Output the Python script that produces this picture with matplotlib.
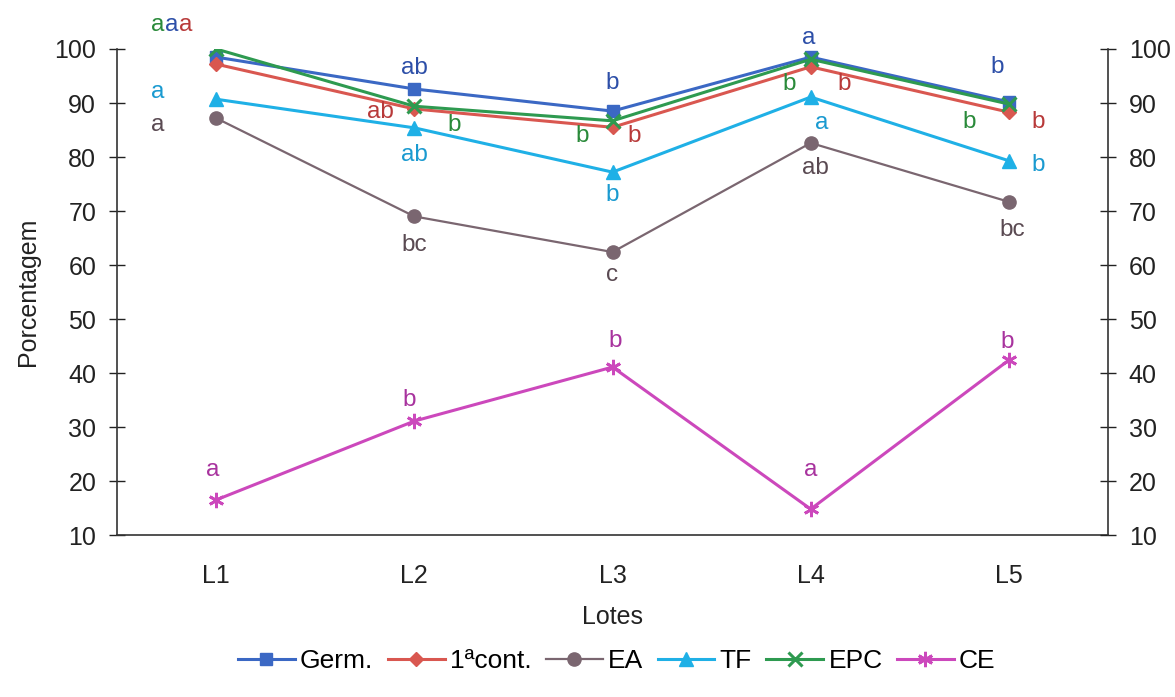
import matplotlib.pyplot as plt
import numpy as np

plt.rcParams['font.family'] = ['Liberation Sans', 'DejaVu Sans']

lotes = ['L1', 'L2', 'L3', 'L4', 'L5']
germ = [98.5, 92.6, 88.5, 98.5, 90.2]
cont1 = [97.2, 88.9, 85.5, 96.7, 88.3]
ea = [87.2, 69.0, 62.4, 82.6, 71.7]
tf = [90.7, 85.4, 77.2, 91.1, 79.3]
epc = [100.0, 89.4, 86.7, 98.1, 89.8]
ce = [16.5, 31.1, 41.1, 14.8, 42.4]

# letras de significancia
let_germ = ['a', 'ab', 'b', 'a', 'b']
let_cont = ['a', 'ab', 'b', 'b', 'b']
let_ea = ['a', 'bc', 'c', 'ab', 'bc']
let_tf = ['a', 'ab', 'b', 'a', 'b']
let_epc = ['a', 'b', 'b', 'b', 'b']
let_ce = ['a', 'b', 'b', 'a', 'b']

# deslocamento das letras (pixels)
off_germ = [(-44, 32), (0, 21), (0, 28), (-2, 19), (-12, 35)]
off_cont = [(-30, 39), (-34, -3), (22, -9), (33, -17), (29, -10)]
off_ea = [(-58, -7), (0, -29), (0, -23), (5, -25), (3, -28)]
off_tf = [(-58, 7), (0, -27), (0, -23), (11, -26), (29, -4)]
off_epc = [(-58, 24), (40, -19), (-30, -15), (-22, -25), (-40, -18)]
off_ce = [(-3, 30), (-5, 21), (3, 26), (0, 39), (-2, 18)]

fig = plt.figure(figsize=(11.75, 6.97), dpi=100)
ax = fig.add_axes([0.0996, 0.2324, 0.8434, 0.6973])
x = np.arange(len(lotes))

series = [
    ('Germ.', germ, '#3b68c4', '#2d4fa8', dict(marker='s', markersize=9), let_germ, off_germ, 2.2),
    ('1ªcont.', cont1, '#d95750', '#b83a3a', dict(marker='D', markersize=7.5), let_cont, off_cont, 2.2),
    ('EA', ea, '#7a6670', '#5a4a52', dict(marker='o', markersize=9.5), let_ea, off_ea, 1.6),
    ('TF', tf, '#1fb0e6', '#1a9ad0', dict(marker='^', markersize=10.5), let_tf, off_tf, 2.2),
    ('EPC', epc, '#2e9a50', '#2a8a3a', dict(marker='x', markersize=10, markeredgewidth=2.2), let_epc, off_epc, 2.2),
    ('CE', ce, '#cc48bc', '#a8339e', dict(marker=(6, 2, 0), markersize=11, markeredgewidth=2), let_ce, off_ce, 2.2),
]

for name, vals, col, tcol, mk, lets, offs, lw in series:
    ax.plot(x, vals, color=col, linewidth=lw, label=name, **mk)
    for i in range(len(vals)):
        ax.annotate(lets[i], (x[i], vals[i]), xytext=offs[i], textcoords='offset pixels',
                    ha='center', va='center', fontsize=17.5, color=tcol)

ax.set_xlim(-0.5, 4.5)
ax.set_ylim(10, 100)
ax.set_yticks(range(10, 101, 10))
ax.set_xticks(x)
ax.set_xticklabels(lotes)
ax.tick_params(axis='x', length=0, pad=21, labelsize=18, colors='#222222')
ax.tick_params(axis='y', direction='inout', length=12, width=1, pad=9, labelsize=18, colors='#222222')
for s in ['top', 'right']:
    ax.spines[s].set_visible(False)
for s in ['left', 'bottom']:
    ax.spines[s].set_color('#333333')
    ax.spines[s].set_linewidth(1.2)

ax2 = ax.twinx()
ax2.set_ylim(10, 100)
ax2.set_yticks(range(10, 101, 10))
ax2.tick_params(axis='y', direction='inout', length=12, width=1, pad=9, labelsize=18, colors='#222222')
for s in ['top', 'left', 'bottom']:
    ax2.spines[s].set_visible(False)
ax2.spines['right'].set_color('#333333')
ax2.spines['right'].set_linewidth(1.2)

ax.set_ylabel('Porcentagem', fontsize=18, labelpad=10, color='#222222')
ax.set_xlabel('Lotes', fontsize=18, labelpad=12, color='#222222')

ax.legend(loc='center', bbox_to_anchor=(0.525, 0.052), bbox_transform=fig.transFigure,
          ncol=6, frameon=False, fontsize=19, handlelength=2.15, handletextpad=0.2,
          columnspacing=0.55)

fig.savefig('out.png', dpi=100)
